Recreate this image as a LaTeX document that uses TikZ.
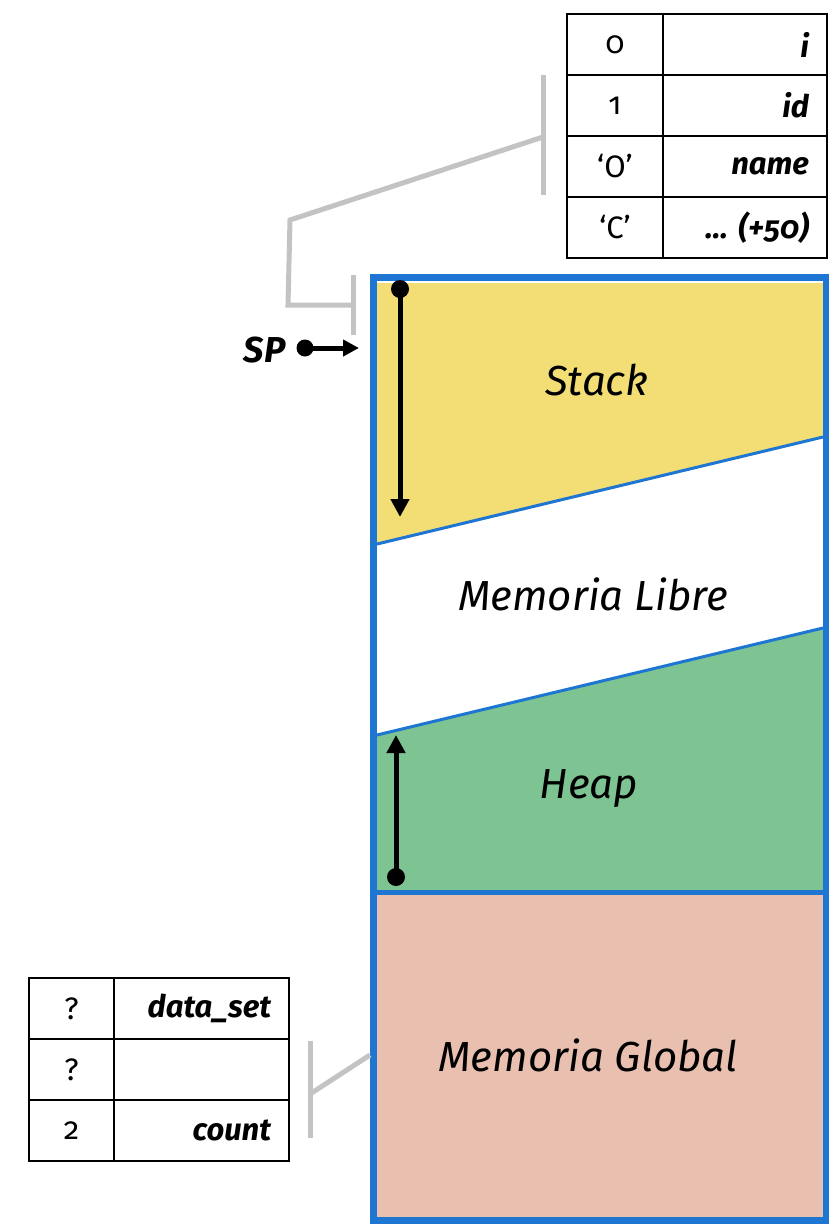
\documentclass[tikz,border=0pt]{standalone}
\usepackage{fontspec}
\setmainfont{Fira Sans}[Numbers=OldStyle]
\usetikzlibrary{arrows.meta,calc}
\definecolor{memblue}{RGB}{30,118,210}
\definecolor{stackyellow}{RGB}{242,222,116}
\definecolor{heapgreen}{RGB}{126,196,146}
\definecolor{globalpink}{RGB}{233,192,176}
\definecolor{bracketgray}{RGB}{195,195,195}
\begin{document}
\begin{tikzpicture}[x=1pt,y=-1pt,
  cellbase/.style={draw=black, line width=2.5pt, minimum height=61pt, inner ysep=0pt, outer sep=0pt, anchor=north west, font=\fontsize{31}{34}\selectfont},
  valcell/.style={cellbase, minimum width=#1, inner xsep=0pt, align=center},
  namecell/.style={cellbase, text width=#1, inner xsep=18pt, align=right, font=\fontsize{31}{34}\selectfont\bfseries\itshape},
  region/.style={font=\fontsize{42}{46}\selectfont\itshape},
  bracket/.style={draw=bracketgray, line width=5pt},
  growarrow/.style={line width=5pt, -{Triangle[length=18pt,width=18pt]}},
  sparrow/.style={line width=5pt, -{Triangle[length=16pt,width=16pt]}},
  divider/.style={draw=memblue, line width=3pt}
]
\useasboundingbox (0,0) rectangle (828,1224);

% ---- memory regions ----
\fill[stackyellow] (377,283) -- (823,283) -- (823,437) -- (377,544) -- cycle;
\fill[heapgreen] (377,735) -- (823,628) -- (823,892) -- (377,892) -- cycle;
\fill[globalpink] (377,892) -- (823,892) -- (823,1220) -- (377,1220) -- cycle;
\draw[divider] (377,544) -- (823,437);
\draw[divider] (377,735) -- (823,628);
\draw[draw=memblue, line width=5pt] (377,892) -- (823,892);
\draw[draw=memblue, line width=7pt] (373,277) rectangle (826,1220);

\node[region] (stack) at (597,380) {Stack};
\node[region] (libre) at (593,594) {Memoria Libre};
\node[region] (heap) at (589,789) {Heap};
\node[region] (global) at (588,1055) {Memoria Global};

% ---- growth arrows ----
\coordinate (stackstart) at (400,289);
\coordinate (stackend) at (400,517);
\fill (stackstart) circle (9);
\draw[growarrow] (stackstart) -- (stackend);
\coordinate (heapstart) at (396,877);
\coordinate (heapend) at (396,735);
\fill (heapstart) circle (9);
\draw[growarrow] (heapstart) -- (heapend);

% ---- SP ----
\node[font=\fontsize{36}{40}\selectfont\bfseries\itshape, anchor=east] (sp) at (289,350) {SP};
\coordinate (spdot) at (305,348);
\coordinate (sptip) at (359,348);
\fill (spdot) circle (8.5);
\draw[sparrow] (spdot) -- (sptip);

% ---- top table ----
\node[valcell=96pt] (a0) at (567,14) {0};
\node[namecell=128pt] (b0) at (663,14) {i};
\node[valcell=96pt] (a1) at (567,75) {1};
\node[namecell=128pt] (b1) at (663,75) {id};
\node[valcell=96pt] (a2) at (567,136) {‘O’};
\node[namecell=128pt] (b2) at (663,136) {name};
\node[valcell=96pt] (a3) at (567,197) {‘C’};
\node[namecell=128pt] (b3) at (663,197) {… (+50)};

% ---- bottom table ----
\node[valcell=85pt] (c0) at (29,978) {?};
\node[namecell=139pt] (d0) at (114,978) {data\_set};
\node[valcell=85pt] (c1) at (29,1039) {?};
\node[namecell=139pt] (d1) at (114,1039) {};
\node[valcell=85pt] (c2) at (29,1100) {2};
\node[namecell=139pt] (d2) at (114,1100) {count};

% ---- brackets ----
\coordinate (tbtop) at (543,75);
\coordinate (tbbot) at (543,195);
\coordinate (tbmid) at (543,137);
\coordinate (tbk1) at (290,220);
\coordinate (tbk2) at (288,305);
\coordinate (sbmid) at (353,305);
\coordinate (sbtop) at (353,275);
\coordinate (sbbot) at (353,335);
\draw[bracket] (tbtop) -- (tbbot);
\draw[bracket] (tbmid) -- (tbk1) -- (tbk2) -- (sbmid);
\draw[bracket] (sbtop) -- (sbbot);

\coordinate (gbtop) at (310,1041);
\coordinate (gbbot) at (310,1138);
\coordinate (gbmid) at (310,1094);
\coordinate (gbend) at (370,1055);
\draw[bracket] (gbtop) -- (gbbot);
\draw[bracket] (gbmid) -- (gbend);
\end{tikzpicture}
\end{document}
